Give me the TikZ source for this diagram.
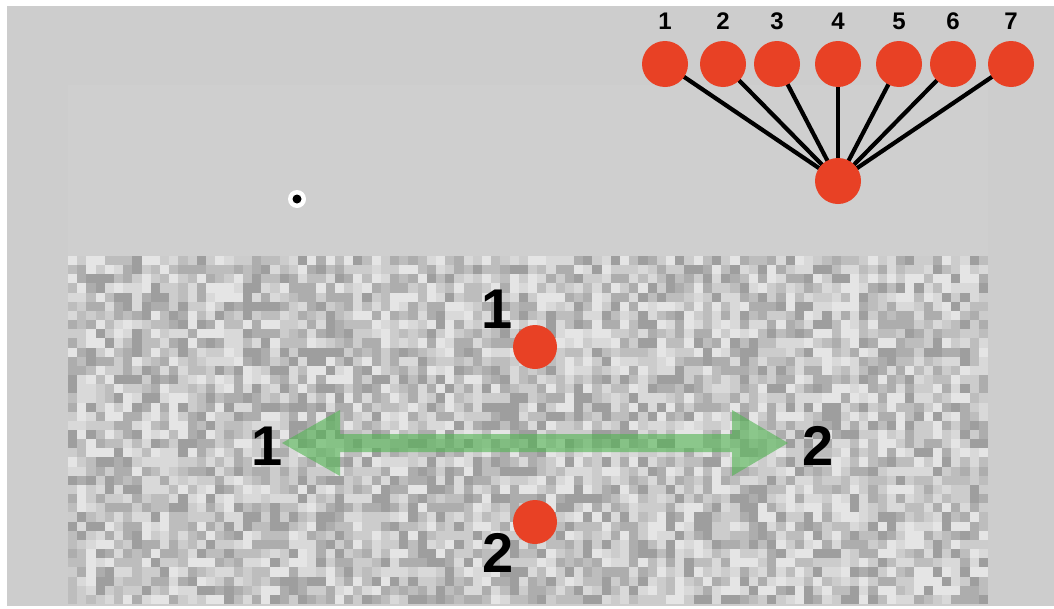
\documentclass[tikz,border=0pt]{standalone}
\usepackage{fontspec}
\setmainfont{Liberation Sans}
\usetikzlibrary{calc}
\pgfdeclarelayer{bg}
\pgfdeclarelayer{links}
\pgfsetlayers{bg,links,main}
\definecolor{dotred}{RGB}{232,65,37}
\definecolor{screen}{RGB}{205,205,205}
\definecolor{panel}{RGB}{207,207,207}
\definecolor{arrowgreen}{RGB}{80,180,80}
\tikzset{
  reddot/.style={circle, fill=dotred, minimum size=46pt, inner sep=0pt},
  toplabel/.style={font=\fontsize{24}{24}\selectfont\bfseries, inner sep=0pt},
  biglabel/.style={font=\fontsize{56}{56}\selectfont\bfseries, inner sep=0pt},
  link/.style={line width=4.2pt, black},
}
\begin{document}
\begin{tikzpicture}[x=1pt,y=-1pt]
\useasboundingbox (0,0) rectangle (1054,608);

\begin{pgfonlayer}{bg}
  % page and screen
  \fill[white] (0,0) rectangle (1054,608);
  \fill[screen] (7,6) rectangle (1054,606);
  \fill[panel] (68,85) rectangle (988,604);
  % pixel noise texture: a few discrete grey levels
  \pgfmathsetseed{4217}
  \foreach \row in {0,...,37}{
    \foreach \col in {0,...,99}{
      \pgfmathsetmacro{\lev}{{"62","68","74","80","85","90"}[int(rnd*6)]}
      \fill[white!\lev!black] (68+\col*9.2,256+\row*9.158) rectangle ++(9.3,9.258);
    }
  }
\end{pgfonlayer}

% fixation point
\node[circle, fill=white, minimum size=18pt, inner sep=0pt] (fix) at (297,199) {};
\node[circle, fill=black, minimum size=9pt, inner sep=0pt] at (fix.center) {};

% fan of seven response dots
\node[reddot] (hub) at (838,181) {};
\foreach \i/\x in {1/665,2/723,3/777,4/838,5/899,6/953,7/1011}{
  \node[reddot] (t\i) at (\x,64) {};
  \node[toplabel] (l\i) at (\x,21) {\i};
  \begin{pgfonlayer}{links}
    \draw[link] (t\i.center) -- (hub.center);
  \end{pgfonlayer}
}

% two stimulus dots
\node[reddot, minimum size=44pt] (s1) at (535,347) {};
\node[biglabel] (n1) at (497,309) {1};
\node[reddot, minimum size=44pt] (s2) at (535,522) {};
\node[biglabel] (n2) at (498,553) {2};

% double-headed motion arrow
\coordinate (al) at (282,443);
\coordinate (ar) at (788,443);
\fill[arrowgreen, fill opacity=0.6]
  (al) -- ($(al)+(58,-33)$) -- ($(al)+(58,-9)$) -- ($(ar)+(-56,-9)$)
  -- ($(ar)+(-56,-33)$) -- (ar) -- ($(ar)+(-56,33)$) -- ($(ar)+(-56,9)$)
  -- ($(al)+(58,9)$) -- ($(al)+(58,33)$) -- cycle;
\node[biglabel] (a1) at (267,446) {1};
\node[biglabel] (a2) at (818,446) {2};
\end{tikzpicture}
\end{document}
